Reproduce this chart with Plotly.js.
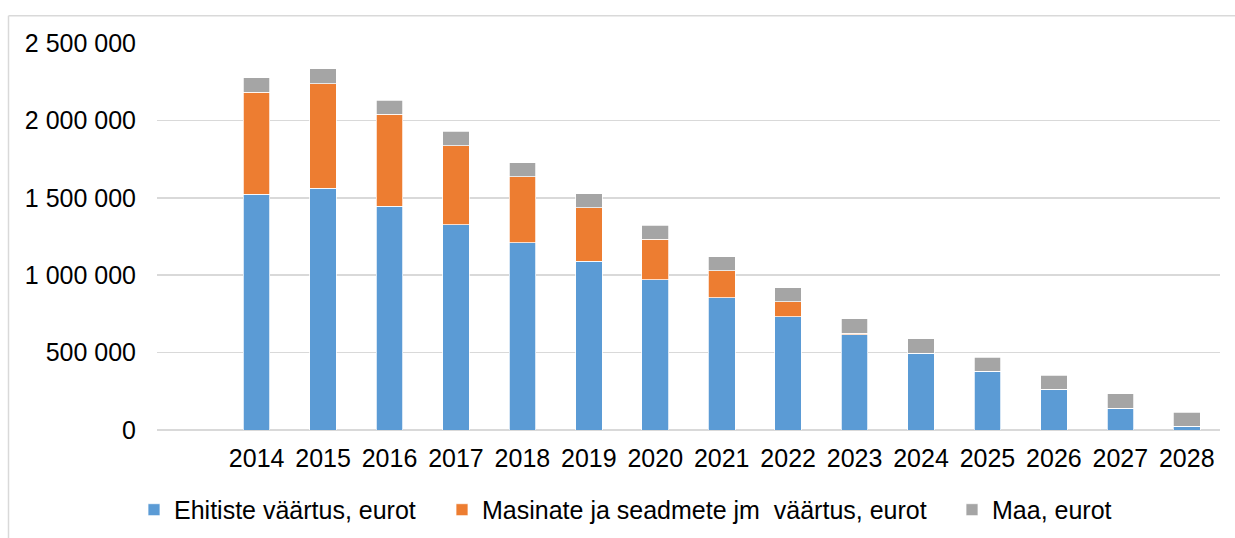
<!DOCTYPE html>
<html>
<head>
<meta charset="utf-8">
<script src="https://cdn.plot.ly/plotly-3.0.1.min.js"></script>
<style>
  html, body { margin: 0; padding: 0; background: #fff; }
  #chart { width: 1235px; height: 538px; }
</style>
</head>
<body>
<div id="chart"></div>
<script>
const years = ['2014','2015','2016','2017','2018','2019','2020','2021','2022','2023','2024','2025','2026','2027','2028'];
const ehitised = [1523000, 1563000, 1447000, 1327000, 1209000, 1090000, 972000, 854000, 733000, 615000, 497000, 379000, 262000, 140000, 24000];
const masinad  = [660000, 675000, 594000, 510000, 426000, 346000, 260000, 174000, 97000, 11000, 0, 0, 0, 0, 0];
const maa      = [93000, 95000, 90000, 92000, 93000, 91000, 90000, 92000, 90000, 92000, 92000, 92000, 92000, 94000, 92000];
const seriesNames = ['Ehitiste väärtus, eurot', 'Masinate ja seadmete jm \u00a0väärtus, eurot', 'Maa, eurot'];
const yTicks = [0, 500000, 1000000, 1500000, 2000000, 2500000];

const colors = ['#5B9BD5', '#ED7D31', '#A5A5A5'];
const legendWidths = [263, 465, 130];
const seriesData = [ehitised, masinad, maa];

const traces = seriesData.map((vals, i) => ({
  type: 'bar',
  x: years,
  y: vals,
  name: seriesNames[i],
  legendwidth: legendWidths[i],
  marker: { color: colors[i], line: { color: '#ffffff', width: 0.75 } },
  hoverinfo: 'x+y+name'
}));

const L = 157, R = 15, T = 42.7, B = 108;
const W = 1235, H = 538;
const pw = W - L - R, ph = H - T - B;
const px = x => (x - L) / pw;
const py = y => (H - B - y) / ph;

const layout = {
  width: W, height: H,
  margin: { l: L, r: R, t: T, b: B, pad: 0, autoexpand: false },
  paper_bgcolor: '#ffffff',
  plot_bgcolor: '#ffffff',
  barmode: 'stack',
  bargap: 0.6,
  separators: ', ',
  font: { family: '"Liberation Sans", Arial, sans-serif', size: 25, color: '#000000' },
  showlegend: true,
  legend: {
    orientation: 'h',
    x: px(134), xanchor: 'left',
    y: py(510), yanchor: 'middle',
    font: { size: 25, color: '#000000' },
    traceorder: 'normal',
    bgcolor: 'rgba(0,0,0,0)'
  },
  xaxis: {
    type: 'category',
    range: [-1.5, 14.5],
    showgrid: false,
    zeroline: false,
    showline: false,
    ticks: '',
    ticklabelstandoff: 11,
    tickfont: { size: 25 },
    fixedrange: true
  },
  yaxis: {
    range: [0, 2500000],
    tickvals: yTicks,
    tickformat: ',d',
    showgrid: true,
    gridcolor: '#d9d9d9',
    gridwidth: 1.5,
    zeroline: true,
    zerolinecolor: '#d9d9d9',
    zerolinewidth: 1.5,
    showline: false,
    ticks: '',
    ticklabelstandoff: 20,
    tickfont: { size: 25 },
    fixedrange: true
  },
  shapes: [
    { type: 'line', xref: 'paper', yref: 'paper', x0: px(8.5), x1: px(1240), y0: py(15.5), y1: py(15.5), line: { color: '#d9d9d9', width: 1.5 }, layer: 'below' },
    { type: 'line', xref: 'paper', yref: 'paper', x0: px(8.5), x1: px(8.5), y0: py(15.5), y1: py(545), line: { color: '#d9d9d9', width: 1.5 }, layer: 'below' }
  ]
};

Plotly.newPlot('chart', traces, layout, { displayModeBar: false, staticPlot: true });
</script>
</body>
</html>
